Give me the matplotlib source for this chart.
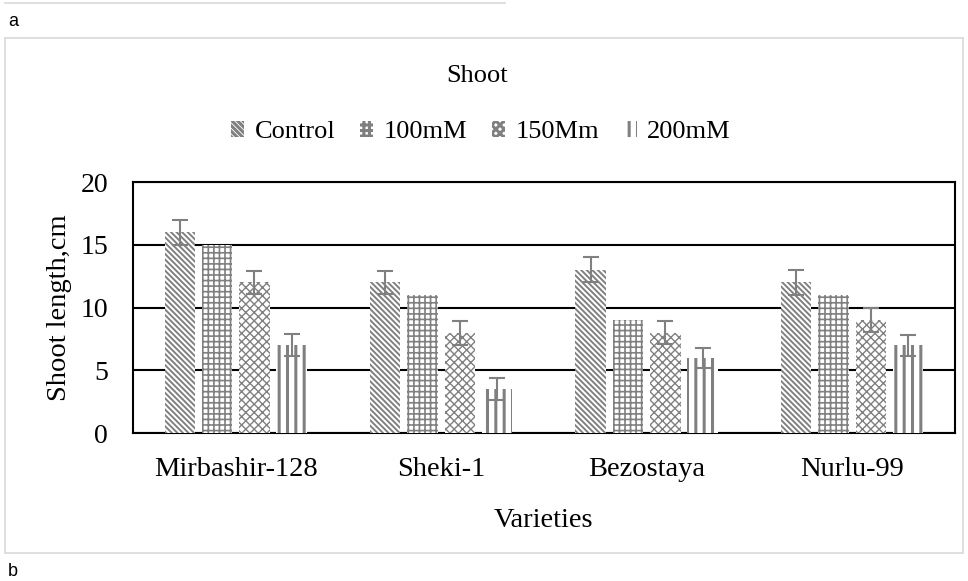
import numpy as np
import matplotlib.pyplot as plt
from matplotlib.patches import Rectangle, Patch
from matplotlib.lines import Line2D

# Дані
varieties = ["Mirbashir-128", "Sheki-1", "Bezostaya", "Nurlu-99"]
treatments = ["Control", "100mM", "150Mm", "200mM"]
control = [16, 12, 13, 12]
mm100 = [15, 11, 9, 11]
mm150 = [12, 8, 8, 9]
mm200 = [7, 3.5, 6, 7]
err_control = [1.0, 0.9, 1.0, 1.0]
err_150 = [0.95, 0.95, 0.9, 0.95]
err_200 = [0.9, 0.9, 0.8, 0.85]

values = [control, mm100, mm150, mm200]
errors = [err_control, None, err_150, err_200]
hatches = ["\\" * 6, "+++", "xxxx", "||"]
hatch_lw = [1.4, 1.2, 1.0, 2.2]

plt.rcParams["font.family"] = ["Liberation Serif", "DejaVu Serif"]
grey = "#808080"

fig = plt.figure(figsize=(9.68, 5.81), dpi=100)
ax = fig.add_axes([0.1374, 0.2547, 0.849, 0.432])

x = np.arange(len(varieties))
step = 0.1816
width = 0.148

for i, (vals, err) in enumerate(zip(values, errors)):
    plt.rcParams["hatch.linewidth"] = hatch_lw[i]
    pos = x + (i - 1.5) * step
    ax.bar(pos, vals, width, facecolor="white", edgecolor=grey,
           linewidth=0, hatch=hatches[i], zorder=3)
    if err is not None:
        ax.errorbar(pos, vals, yerr=err, fmt="none", ecolor=grey,
                    elinewidth=1.5, capsize=6, capthick=1.5, zorder=4)

# Налаштування осей
ax.set_xlim(-0.5, 3.5)
ax.set_ylim(0, 20)
ax.set_yticks([0, 5, 10, 15, 20])
ax.set_xticks(x)
ax.set_xticklabels(varieties, fontsize=20.5)
ax.tick_params(axis="y", labelsize=20, length=0, pad=18)
ax.tick_params(axis="x", length=0, pad=17)
ax.yaxis.grid(True, color="black", linewidth=1.5, zorder=0)
ax.set_axisbelow(True)
for s in ax.spines.values():
    s.set_linewidth(1.5)
    s.set_color("black")

ax.set_ylabel("Shoot length,cm", fontsize=20.5, labelpad=6)
ax.set_xlabel("Varieties", fontsize=20.5, labelpad=19)

fig.text(0.493, 0.869, "Shoot", ha="center", va="center", fontsize=19)

# Легенда
handles = []
for i in range(4):
    handles.append(Patch(facecolor="white", edgecolor=grey, linewidth=0,
                         hatch=hatches[i]))
fig.legend(handles, treatments, loc="center", bbox_to_anchor=(0.497, 0.773),
           ncol=4, frameon=False, fontsize=19, handlelength=0.5,
           handleheight=0.55, handletextpad=0.38, columnspacing=0.95)

# Рамка навколо графіка та підписи
fig.patches.append(Rectangle((5 / 968, 1 - 553 / 581), 958 / 968, 515 / 581,
                             transform=fig.transFigure, fill=False,
                             edgecolor="#d9d9d9", linewidth=1.2))
fig.add_artist(Line2D([5 / 968, 505 / 968], [1 - 3 / 581, 1 - 3 / 581],
                      transform=fig.transFigure, color="#d9d9d9", linewidth=1.2))
fig.text(8 / 968, 1 - 21 / 581, "a", ha="left", va="center", fontsize=13,
         family=["Liberation Sans", "DejaVu Sans"])
fig.text(8 / 968, 1 - 572 / 581, "b", ha="left", va="center", fontsize=13,
         family=["Liberation Sans", "DejaVu Sans"])

fig.savefig("out.png", dpi=100)
